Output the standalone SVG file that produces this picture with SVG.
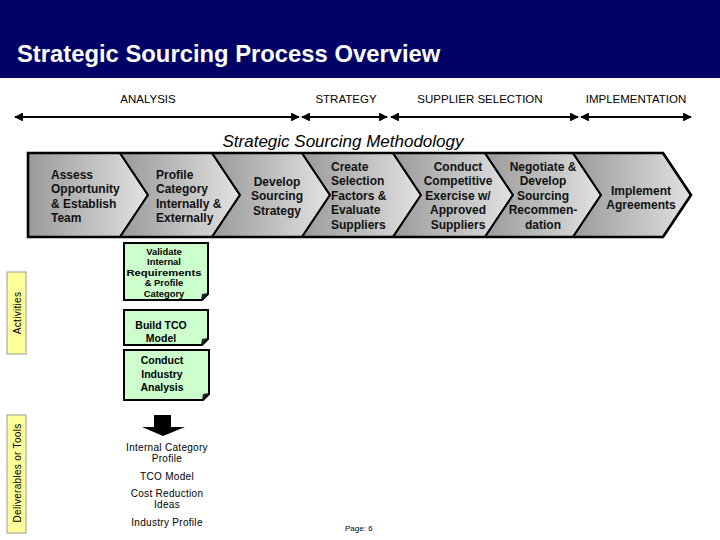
<svg xmlns="http://www.w3.org/2000/svg" width="720" height="540" viewBox="0 0 720 540">
<defs>
<linearGradient id="chev" x1="0" y1="0" x2="1" y2="0">
<stop offset="0" stop-color="#9a9a9a"/>
<stop offset="1" stop-color="#e2e2e2"/>
</linearGradient>
<marker id="ah" viewBox="0 0 10 10" refX="9" refY="5" markerWidth="4" markerHeight="4" orient="auto-start-reverse">
<path d="M0,0 L10,5 L0,10 z" fill="#000"/>
</marker>
</defs>
<style>
.title{font-family:"Liberation Sans",Arial,sans-serif;font-size:23.8px;font-weight:bold;fill:#fff}
.phase{font-family:"Liberation Sans",Arial,sans-serif;font-size:11.5px;fill:#000;text-anchor:middle}
.meth{font-family:"Liberation Sans",Arial,sans-serif;font-size:17px;font-style:italic;fill:#000;text-anchor:middle}
.ch{fill:url(#chev);stroke:#000;stroke-width:2;stroke-linejoin:miter}
.ct{font-family:"Liberation Sans",Arial,sans-serif;font-size:12px;font-weight:bold;fill:#111}
.mid{text-anchor:middle}
.note{fill:#ccffcc;stroke:#000;stroke-width:2}
.fold{fill:#222}
.nt{font-family:"Liberation Sans",Arial,sans-serif;font-size:10.5px;font-weight:bold;fill:#000;text-anchor:middle}
.nts{font-family:"Liberation Sans",Arial,sans-serif;font-size:9.4px;font-weight:bold;fill:#000;text-anchor:middle}
.side{fill:#ffff99;stroke:#999;stroke-width:1}
.st{font-family:"Liberation Sans",Arial,sans-serif;font-size:10px;fill:#000;text-anchor:middle;letter-spacing:0.3px}
.dt{font-family:"Liberation Sans",Arial,sans-serif;font-size:10px;fill:#000;text-anchor:middle;letter-spacing:0.3px}
.conn{stroke:#000;stroke-width:2.2;fill:none;marker-start:url(#ah);marker-end:url(#ah)}
</style>
<rect width="720" height="540" fill="#fff"/>
<g id="header">
<rect x="0" y="0" width="720" height="78" fill="#000066"/>
<text class="title" x="17" y="62">Strategic Sourcing Process Overview</text>
</g>
<g id="phases">
<text class="phase" x="148" y="103">ANALYSIS</text>
<text class="phase" x="346" y="103">STRATEGY</text>
<text class="phase" x="480" y="103">SUPPLIER SELECTION</text>
<text class="phase" x="636" y="103">IMPLEMENTATION</text>
</g>
<g id="connectors">
<line class="conn" x1="15" y1="117" x2="299" y2="117"/>
<line class="conn" x1="302" y1="117" x2="387" y2="117"/>
<line class="conn" x1="391" y1="117" x2="578" y2="117"/>
<line class="conn" x1="581" y1="117" x2="691" y2="117"/>
</g>
<text class="meth" x="343" y="147">Strategic Sourcing Methodology</text>
<g id="chevrons">
<g id="c1"><path class="ch" d="M28,153 H120 L148,195 L120,237 H28 Z"/>
<text class="ct" x="51"><tspan x="51" y="179">Assess</tspan><tspan x="51" y="193">Opportunity</tspan><tspan x="51" y="208">&amp; Establish</tspan><tspan x="51" y="222">Team</tspan></text></g>
<g id="c2"><path class="ch" d="M120,153 H212 L240,195 L212,237 H120 L148,195 Z"/>
<text class="ct"><tspan x="156" y="179">Profile</tspan><tspan x="156" y="193">Category</tspan><tspan x="156" y="208">Internally &amp;</tspan><tspan x="156" y="222">Externally</tspan></text></g>
<g id="c3"><path class="ch" d="M212,153 H302 L330,195 L302,237 H212 L240,195 Z"/>
<text class="ct mid"><tspan x="277" y="186">Develop</tspan><tspan x="277" y="200">Sourcing</tspan><tspan x="277" y="215">Strategy</tspan></text></g>
<g id="c4"><path class="ch" d="M302,153 H393 L421,195 L393,237 H302 L330,195 Z"/>
<text class="ct"><tspan x="331" y="171">Create</tspan><tspan x="331" y="185">Selection</tspan><tspan x="331" y="200">Factors &amp;</tspan><tspan x="331" y="214">Evaluate</tspan><tspan x="331" y="229">Suppliers</tspan></text></g>
<g id="c5"><path class="ch" d="M393,153 H485 L513,195 L485,237 H393 L421,195 Z"/>
<text class="ct mid"><tspan x="458" y="171">Conduct</tspan><tspan x="458" y="185">Competitive</tspan><tspan x="458" y="200">Exercise  w/</tspan><tspan x="458" y="214">Approved</tspan><tspan x="458" y="229">Suppliers</tspan></text></g>
<g id="c6"><path class="ch" d="M485,153 H573 L601,195 L573,237 H485 L513,195 Z"/>
<text class="ct mid"><tspan x="543" y="171">Negotiate &amp;</tspan><tspan x="543" y="185">Develop</tspan><tspan x="543" y="200">Sourcing</tspan><tspan x="543" y="214">Recommen-</tspan><tspan x="543" y="229">dation</tspan></text></g>
<g id="c7"><path class="ch" d="M573,153 H663 L691,195 L663,237 H573 L601,195 Z"/>
<text class="ct mid"><tspan x="641" y="195">Implement</tspan><tspan x="641" y="209">Agreements</tspan></text></g>
<path d="M28,153 H663 L691,195 L663,237 H28 Z" fill="none" stroke="#000" stroke-width="2.6"/>
</g>
<g id="activities-label">
<rect class="side" x="7" y="272" width="19" height="82"/>
<text class="st" transform="translate(20.5,313) rotate(-90)">Activities</text>
</g>
<g id="deliverables-label">
<rect class="side" x="7" y="415" width="19" height="118"/>
<text class="st" transform="translate(20.5,473) rotate(-90)">Deliverables or Tools</text>
</g>
<g id="a1">
<path class="note" d="M124,243 H208 V294 L202,300 H124 Z"/>
<path class="fold" d="M208,293 L201,300 L202,294 Z"/>
<text class="nts"><tspan x="164" y="254.5">Validate</tspan><tspan x="164" y="265.1">Internal</tspan><tspan x="164" y="275.7" textLength="75" lengthAdjust="spacingAndGlyphs">Requirements</tspan><tspan x="164" y="286.3">&amp; Profile</tspan><tspan x="164" y="296.9">Category</tspan></text>
</g>
<g id="a2">
<path class="note" d="M124,310 H208 V339 L202,345 H124 Z"/>
<path class="fold" d="M208,338 L201,345 L202,339 Z"/>
<text class="nt"><tspan x="161" y="329">Build TCO</tspan><tspan x="161" y="342">Model</tspan></text>
</g>
<g id="a3">
<path class="note" d="M124,350 H209 V394 L203,400 H124 Z"/>
<path class="fold" d="M209,393 L202,400 L203,394 Z"/>
<text class="nt"><tspan x="162" y="364">Conduct</tspan><tspan x="162" y="378">Industry</tspan><tspan x="162" y="391">Analysis</tspan></text>
</g>
<g id="down-arrow">
<path d="M154,415 H171 V427 H185 L163,436 L142,427 H154 Z" fill="#000"/>
</g>
<g id="deliverables">
<text class="dt"><tspan x="167" y="451">Internal Category</tspan><tspan x="167" y="462">Profile</tspan></text>
<text class="dt" x="167" y="480">TCO Model</text>
<text class="dt"><tspan x="167" y="497">Cost Reduction</tspan><tspan x="167" y="508">Ideas</tspan></text>
<text class="dt" x="167" y="526">Industry Profile</text>
</g>
<text x="345" y="531" font-family="Liberation Sans, Arial, sans-serif" font-size="8" fill="#000">Page: 6</text>
</svg>
